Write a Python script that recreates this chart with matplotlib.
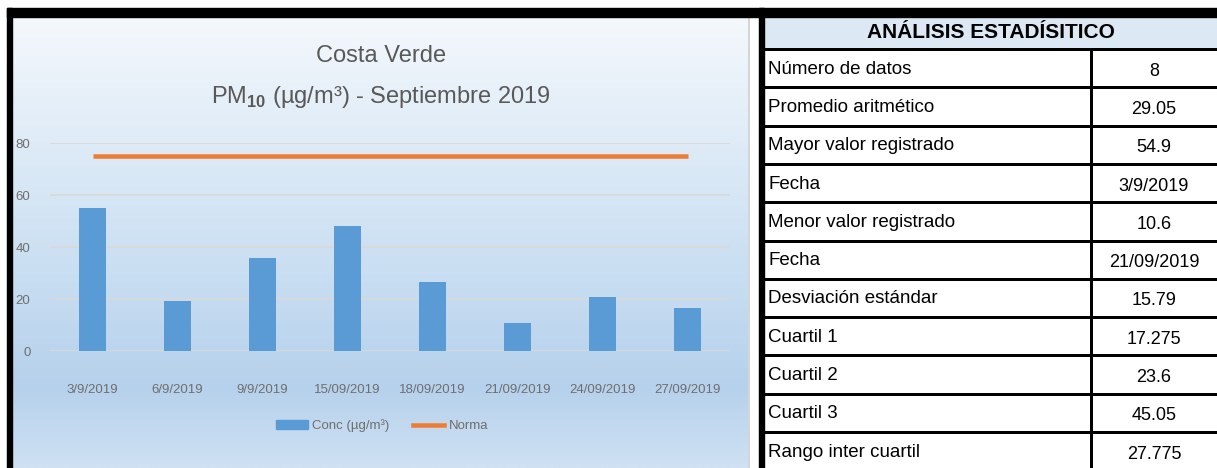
#!/usr/bin/env python3
"""PM10 Costa Verde, septiembre 2019: barras + tabla de estadisticos."""

import matplotlib

matplotlib.use("Agg")
import matplotlib.pyplot as plt
import numpy as np
from matplotlib import font_manager
from matplotlib.colors import LinearSegmentedColormap
from matplotlib.lines import Line2D
from matplotlib.patches import Rectangle

fechas = ["3/9/2019", "6/9/2019", "9/9/2019", "15/09/2019",
          "18/09/2019", "21/09/2019", "24/09/2019", "27/09/2019"]
concentracion = [54.9, 19.3, 35.6, 48.2, 26.4, 10.6, 20.8, 16.6]
norma = [75, 75, 75, 75, 75, 75, 75, 75]
y_ticks = [0, 20, 40, 60, 80]

etiquetas_tabla = ["Número de datos", "Promedio aritmético", "Mayor valor registrado",
                   "Fecha", "Menor valor registrado", "Fecha", "Desviación estándar",
                   "Cuartil 1", "Cuartil 2", "Cuartil 3", "Rango inter cuartil"]
valores_tabla = ["8", "29.05", "54.9", "3/9/2019", "10.6", "21/09/2019",
                 "15.79", "17.275", "23.6", "45.05", "27.775"]

W, H = 1217, 468
PX = 0.72  # points per pixel at dpi 100


def pick_family():
    names = {f.name for f in font_manager.fontManager.ttflist}
    for name in ["Liberation Sans Narrow", "Arial Narrow", "Liberation Sans"]:
        if name in names:
            return name
    return "DejaVu Sans"


FAM = pick_family()
plt.rcParams["font.family"] = [FAM, "DejaVu Sans"]
plt.rcParams["mathtext.fontset"] = "custom"
plt.rcParams["mathtext.rm"] = FAM
plt.rcParams["mathtext.bf"] = f"{FAM}:bold"

fig = plt.figure(figsize=(W / 100, H / 100), dpi=100)
fig.patch.set_facecolor("white")

# pixel-space overlay for frames, background and table
bg = fig.add_axes([0, 0, 1, 1])
bg.set_xlim(0, W)
bg.set_ylim(H, 0)
bg.axis("off")

# chart panel gradient
grad = LinearSegmentedColormap.from_list(
    "panel", [(0.0, "#f4f8fc"), (0.55, "#cadff2"), (0.82, "#b6d1ec"), (1.0, "#cfe1f3")])
bg.imshow(np.linspace(0, 1, 256).reshape(-1, 1), cmap=grad, aspect="auto",
          extent=(12, 748, H, 17), zorder=0)
bg.plot([748.5, 748.5], [17, H], color="#c8c8c8", lw=1.5 * PX, zorder=1)

# black frame
bg.add_patch(Rectangle((7, 8), W - 7, 9, color="black", zorder=2))
bg.add_patch(Rectangle((7, 8), 5, H - 8, color="black", zorder=2))
bg.add_patch(Rectangle((759, 8), 5, H - 8, color="black", zorder=2))

# titles
bg.text(381, 56, "Costa Verde", ha="center", va="center", fontsize=17,
        color="#595959", zorder=3)
bg.text(381, 97, r"PM$_{\mathbf{10}}$ (µg/m³) - Septiembre 2019", ha="center", va="center",
        fontsize=17, color="#595959", zorder=3)

# table
tab_l, tab_div, tab_r = 764, 1091, W
bg.add_patch(Rectangle((tab_l, 17), tab_r - tab_l, 32, facecolor="#dce9f5",
                       edgecolor="none", zorder=1))
bg.text((tab_l + tab_r) / 2, 32, "ANÁLISIS ESTADÍSITICO", ha="center", va="center",
        fontsize=15, fontweight="bold", color="black", zorder=3)
row_top, row_h = 49, 38.3
lw_tab = 3 * PX
bg.plot([tab_l, tab_r], [row_top, row_top], color="black", lw=lw_tab, zorder=3)
for i, (lab, val) in enumerate(zip(etiquetas_tabla, valores_tabla)):
    y0 = row_top + i * row_h
    y1 = y0 + row_h
    yc = (y0 + y1) / 2 + 1
    bg.text(tab_l + 4, yc, lab, ha="left", va="center", fontsize=13.5, color="black", zorder=3)
    bg.text((tab_div + tab_r) / 2, yc + 2, val, ha="center", va="center", fontsize=13,
            color="black", zorder=3)
    bg.plot([tab_l, tab_r], [y1, y1], color="black", lw=lw_tab, zorder=3)
bg.plot([tab_div, tab_div], [row_top, H], color="black", lw=lw_tab, zorder=3)

# bar chart, axes spans x 50..730 px and y 351..143 px
ax = fig.add_axes([50 / W, (H - 351) / H, 680 / W, 208 / H])
ax.patch.set_alpha(0)
x = np.arange(len(fechas))
ax.bar(x, concentracion, width=0.31, color="#5b9bd5", zorder=3, label="Conc (µg/m³)")
ax.plot(x, norma, color="#ed7d31", lw=4.5 * PX, solid_capstyle="butt", zorder=4, label="Norma")
ax.set_xlim(-0.5, len(fechas) - 0.5)
ax.set_ylim(0, 80)
ax.set_yticks(y_ticks)
ax.set_xticks(x)
ax.set_xticklabels(fechas)
ax.grid(axis="y", color="#d9d9d9", lw=1.8 * PX, zorder=1)
ax.set_axisbelow(True)
for side in ["top", "right", "left", "bottom"]:
    ax.spines[side].set_visible(False)
ax.tick_params(axis="both", length=0, labelsize=9.5, labelcolor="#6f6f6f")
ax.tick_params(axis="x", pad=24)
ax.tick_params(axis="y", pad=14)

handles = [Rectangle((0, 0), 1, 1, color="#5b9bd5"),
           Line2D([0], [0], color="#ed7d31", lw=4.5 * PX)]
fig.legend(handles, ["Conc (µg/m³)", "Norma"], loc="center",
           bbox_to_anchor=(382 / W, (H - 426) / H), ncol=2, frameon=False,
           fontsize=9.5, labelcolor="#6f6f6f", handlelength=2.4, handletextpad=0.3,
           columnspacing=1.8)

fig.savefig("out.png", dpi=100, facecolor="white")
